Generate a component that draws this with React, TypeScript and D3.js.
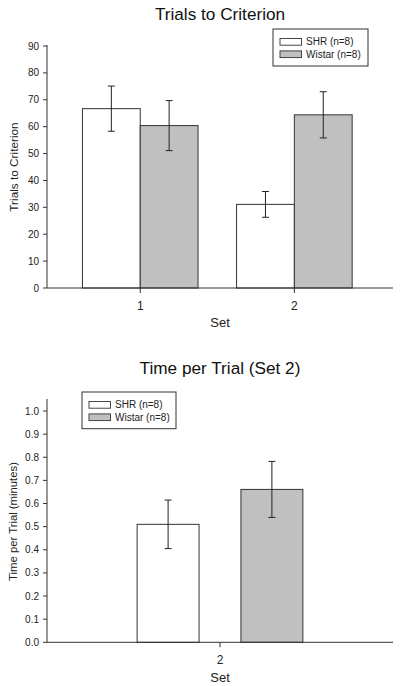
import React from "react";
import * as d3 from "d3";

// ---- Data ----
const seriesNames = ["SHR (n=8)", "Wistar (n=8)"];
const seriesFills = ["#ffffff", "#c0c0c0"];

// Chart 1: Trials to Criterion
const sets1 = [1, 2];
const shrTrials = [66.7, 31.1];
const shrTrialsErr = [8.4, 4.8];
const wistarTrials = [60.4, 64.4];
const wistarTrialsErr = [9.3, 8.6];
const yTicks1 = [0, 10, 20, 30, 40, 50, 60, 70, 80, 90];

// Chart 2: Time per Trial (Set 2)
const sets2 = ["2"];
const shrTime = [0.51];
const shrTimeErr = [0.105];
const wistarTime = [0.661];
const wistarTimeErr = [0.121];
const yTicks2 = [0, 0.1, 0.2, 0.3, 0.4, 0.5, 0.6, 0.7, 0.8, 0.9, 1.0];

const FONT = "'Liberation Sans', Arial, sans-serif";
const AX = "#333";

export default function App() {
  const W = 400;
  const H = 686;
  const left = 47;
  const right = 393;

  // Chart 1 scales
  const x1 = d3.scaleLinear().domain([0.395, 2.64]).range([left, right]);
  const y1 = d3.scaleLinear().domain([0, 90]).range([288, 46]);
  const bw1 = 0.375;

  // Chart 2 scales
  const x2band = d3.scaleBand().domain(sets2).range([left, right]);
  const x2 = d3.scaleLinear().domain([0, 1]).range([left, right]);
  const y2 = d3.scaleLinear().domain([0, 1.0]).range([642.3, 411]);
  const bw2 = 0.179;
  const off2 = 0.15;

  const errBar = (cx: number, yTop: number, yBot: number, key: string) => (
    <g key={key} stroke="#222" strokeWidth={1}>
      <line x1={cx} x2={cx} y1={yTop} y2={yBot} />
      <line x1={cx - 3.5} x2={cx + 3.5} y1={yTop} y2={yTop} />
      <line x1={cx - 3.5} x2={cx + 3.5} y1={yBot} y2={yBot} />
    </g>
  );

  const legend = (x0: number, y0: number, w: number, h: number) => (
    <g>
      <rect x={x0} y={y0} width={w} height={h} fill="#fff" stroke={AX} strokeWidth={1} />
      {seriesNames.map((n, i) => (
        <g key={n}>
          <rect x={x0 + 7} y={y0 + 9.5 + i * 12.4} width={21.5} height={6.7} fill={seriesFills[i]} stroke={AX} strokeWidth={0.9} />
          <text x={x0 + 33} y={y0 + 16.3 + i * 12.4} fontSize={10} fontFamily={FONT} fill="#222">{n}</text>
        </g>
      ))}
    </g>
  );

  return (
    <svg width={W} height={H} style={{ position: "absolute", left: 0, top: 0, background: "#fff" }}>
      {/* ===== Chart 1 ===== */}
      <text x={220} y={20} textAnchor="middle" fontSize={17.2} fontFamily={FONT} fill="#111">Trials to Criterion</text>
      {/* bars */}
      {sets1.map((s, i) => (
        <g key={"b1" + s}>
          <rect x={x1(s - bw1)} y={y1(shrTrials[i])} width={x1(s) - x1(s - bw1)} height={y1(0) - y1(shrTrials[i])} fill={seriesFills[0]} stroke={AX} strokeWidth={1} />
          <rect x={x1(s)} y={y1(wistarTrials[i])} width={x1(s + bw1) - x1(s)} height={y1(0) - y1(wistarTrials[i])} fill={seriesFills[1]} stroke={AX} strokeWidth={1} />
        </g>
      ))}
      {sets1.map((s, i) => errBar(x1(s - bw1 / 2), y1(shrTrials[i] + shrTrialsErr[i]), y1(shrTrials[i] - shrTrialsErr[i]), "e1s" + s))}
      {sets1.map((s, i) => errBar(x1(s + bw1 / 2), y1(wistarTrials[i] + wistarTrialsErr[i]), y1(wistarTrials[i] - wistarTrialsErr[i]), "e1w" + s))}
      {/* axes */}
      <line x1={left} x2={left} y1={y1(90) - 1} y2={y1(0)} stroke={AX} strokeWidth={1} />
      <line x1={left} x2={right} y1={y1(0)} y2={y1(0)} stroke={AX} strokeWidth={1} />
      {yTicks1.map((t) => (
        <g key={"t1" + t}>
          <line x1={left - 4} x2={left} y1={y1(t)} y2={y1(t)} stroke={AX} />
          <text x={39} y={y1(t) + 3.5} textAnchor="end" fontSize={10} fontFamily={FONT} fill="#222">{t}</text>
        </g>
      ))}
      {sets1.map((s) => (
        <g key={"x1" + s}>
          <line x1={x1(s)} x2={x1(s)} y1={y1(0)} y2={y1(0) + 5} stroke={AX} />
          <text x={x1(s)} y={310} textAnchor="middle" fontSize={12} fontFamily={FONT} fill="#222">{s}</text>
        </g>
      ))}
      <text x={220} y={327} textAnchor="middle" fontSize={13} fontFamily={FONT} fill="#222">Set</text>
      <text transform={`translate(18,${167}) rotate(-90)`} textAnchor="middle" fontSize={11.8} fontFamily={FONT} fill="#222">Trials to Criterion</text>
      {legend(273, 29, 95, 37)}

      {/* ===== Chart 2 ===== */}
      <text x={220} y={374} textAnchor="middle" fontSize={17.2} fontFamily={FONT} fill="#111">Time per Trial (Set 2)</text>
      {sets2.map((s, i) => {
        const c = (x2band(s)! + x2band.bandwidth() / 2 - left) / (right - left);
        return (
          <g key={"b2" + s}>
            <rect x={x2(c - off2 - bw2 / 2)} y={y2(shrTime[i])} width={x2(bw2) - x2(0)} height={y2(0) - y2(shrTime[i])} fill={seriesFills[0]} stroke={AX} strokeWidth={1} />
            <rect x={x2(c + off2 - bw2 / 2)} y={y2(wistarTime[i])} width={x2(bw2) - x2(0)} height={y2(0) - y2(wistarTime[i])} fill={seriesFills[1]} stroke={AX} strokeWidth={1} />
            {errBar(x2(c - off2), y2(shrTime[i] + shrTimeErr[i]), y2(shrTime[i] - shrTimeErr[i]), "e2s")}
            {errBar(x2(c + off2), y2(wistarTime[i] + wistarTimeErr[i]), y2(wistarTime[i] - wistarTimeErr[i]), "e2w")}
            <line x1={x2(c)} x2={x2(c)} y1={y2(0)} y2={y2(0) + 5} stroke={AX} />
            <text x={x2(c)} y={664} textAnchor="middle" fontSize={12} fontFamily={FONT} fill="#222">{s}</text>
          </g>
        );
      })}
      <line x1={left} x2={left} y1={399} y2={y2(0)} stroke={AX} strokeWidth={1} />
      <line x1={left} x2={right} y1={y2(0)} y2={y2(0)} stroke={AX} strokeWidth={1} />
      {yTicks2.map((t) => (
        <g key={"t2" + t}>
          <line x1={left - 4} x2={left} y1={y2(t)} y2={y2(t)} stroke={AX} />
          <text x={39} y={y2(t) + 3.5} textAnchor="end" fontSize={10} fontFamily={FONT} fill="#222">{d3.format(".1f")(t)}</text>
        </g>
      ))}
      <text x={220} y={681.5} textAnchor="middle" fontSize={13} fontFamily={FONT} fill="#222">Set</text>
      <text transform={`translate(17,${521.5}) rotate(-90)`} textAnchor="middle" fontSize={11.3} fontFamily={FONT} fill="#222">Time per Trial (minutes)</text>
      {legend(82, 392, 94, 36.7)}
    </svg>
  );
}
